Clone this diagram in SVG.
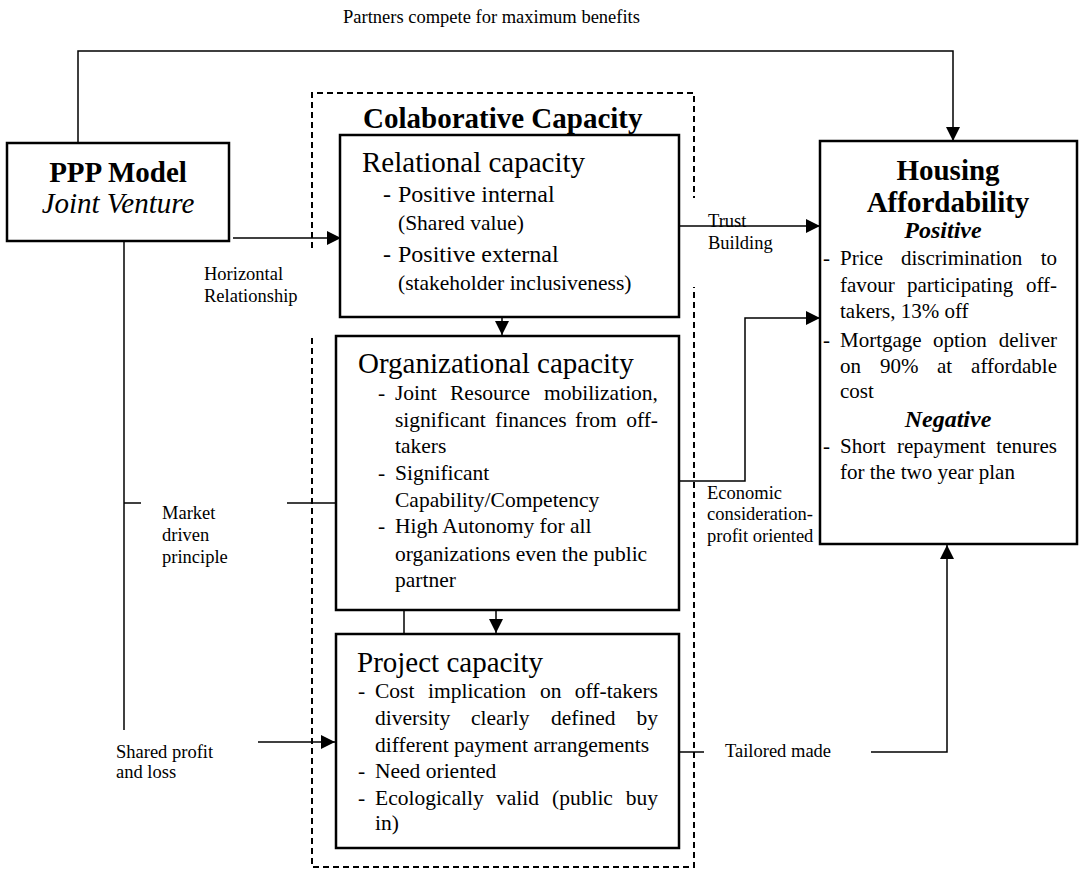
<svg xmlns="http://www.w3.org/2000/svg" width="1079" height="870" viewBox="0 0 1079 870">
<style>
text{font-family:"Liberation Serif","Times New Roman",serif;fill:#000}
.box{fill:#fff;stroke:#000;stroke-width:2.5}
.dash{fill:none;stroke:#000;stroke-width:2;stroke-dasharray:6 4}
.con{fill:none;stroke:#000;stroke-width:1.5}
.lbl{font-size:18.5px}
.ttl{font-size:29px}
.bt{font-size:29px;font-weight:bold}
.b24{font-size:24px}
.s21{font-size:21.5px}
.h21{font-size:21px}
</style>
<defs>
<marker id="ah" markerUnits="userSpaceOnUse" markerWidth="14" markerHeight="14" refX="14" refY="7" orient="auto">
<path d="M0,0 L14,7 L0,14 z" fill="#000"/>
</marker>
</defs>

<g id="collab-frame">
<path class="dash" d="M312,248 V93 H694 V198"/>
<path class="dash" d="M312,338 V867 H694 V287"/>
<text class="bt" x="363" y="128">Colaborative Capacity</text>
</g>

<g id="connectors">
<path class="con" d="M78,143 V51 H953 V141" marker-end="url(#ah)"/>
<path class="con" d="M233,238 H341" marker-end="url(#ah)"/>
<path class="con" d="M502,317 V335" marker-end="url(#ah)"/>
<path class="con" d="M679,226 H820" marker-end="url(#ah)"/>
<path class="con" d="M679,481 H745 V318 H820" marker-end="url(#ah)"/>
<path class="con" d="M124,241 V730"/>
<path class="con" d="M124,503 H141"/>
<path class="con" d="M287,503 H336"/>
<path class="con" d="M258,742 H335" marker-end="url(#ah)"/>
<path class="con" d="M404,610 V634"/>
<path class="con" d="M496,610 V633" marker-end="url(#ah)"/>
<path class="con" d="M679,752 H704"/>
<path class="con" d="M871,752 H947 V545" marker-end="url(#ah)"/>
<text class="lbl" x="343" y="23">Partners compete for maximum benefits</text>
<text class="lbl" x="204" y="280">Horizontal</text>
<text class="lbl" x="204" y="302">Relationship</text>
<text class="lbl" x="708" y="227">Trust</text>
<text class="lbl" x="708" y="249">Building</text>
<text class="lbl" x="707" y="499">Economic</text>
<text class="lbl" x="707" y="520">consideration-</text>
<text class="lbl" x="707" y="542">profit oriented</text>
<text class="lbl" x="162" y="519">Market</text>
<text class="lbl" x="162" y="541">driven</text>
<text class="lbl" x="162" y="563">principle</text>
<text class="lbl" x="116" y="758">Shared profit</text>
<text class="lbl" x="116" y="778">and loss</text>
<text class="lbl" x="725" y="757">Tailored made</text>
</g>

<g id="ppp-model">
<rect class="box" x="7" y="143" width="222" height="98"/>
<text class="bt" x="118" y="182" text-anchor="middle">PPP Model</text>
<text class="ttl" x="118" y="213" text-anchor="middle" font-style="italic">Joint Venture</text>
</g>

<g id="relational-capacity">
<rect class="box" x="340" y="135" width="339" height="182"/>
<text class="ttl" x="362" y="172">Relational capacity</text>
<text class="b24" x="383" y="202">-</text>
<text class="b24" x="398" y="202">Positive internal</text>
<text class="s21" x="398" y="230">(Shared value)</text>
<text class="b24" x="383" y="262">-</text>
<text class="b24" x="398" y="262">Positive external</text>
<text class="s21" x="398" y="290">(stakeholder inclusiveness)</text>
</g>

<g id="organizational-capacity">
<rect class="box" x="336" y="336" width="343" height="274"/>
<text class="ttl" x="358" y="373">Organizational capacity</text>
<g class="s21">
<text x="378" y="400">-</text>
<text y="400"><tspan x="395">Joint</tspan><tspan x="450">Resource</tspan><tspan x="658" text-anchor="end">mobilization,</tspan></text>
<text y="427"><tspan x="395">significant</tspan><tspan x="495">finances</tspan><tspan x="575">from</tspan><tspan x="658" text-anchor="end">off-</tspan></text>
<text x="395" y="453">takers</text>
<text x="378" y="480">-</text>
<text x="395" y="480">Significant</text>
<text x="395" y="507">Capability/Competency</text>
<text x="378" y="533">-</text>
<text x="395" y="533">High Autonomy for all</text>
<text x="395" y="561">organizations even the public</text>
<text x="395" y="587">partner</text>
</g>
</g>

<g id="project-capacity">
<rect class="box" x="336" y="634" width="343" height="214"/>
<text class="ttl" x="357" y="672">Project capacity</text>
<g class="s21">
<text x="358" y="698">-</text>
<text y="698"><tspan x="375">Cost</tspan><tspan x="428">implication</tspan><tspan x="540">on</tspan><tspan x="658" text-anchor="end">off-takers</tspan></text>
<text y="725"><tspan x="375">diversity</tspan><tspan x="471">clearly</tspan><tspan x="551">defined</tspan><tspan x="658" text-anchor="end">by</tspan></text>
<text x="375" y="752">different payment arrangements</text>
<text x="358" y="778">-</text>
<text x="375" y="778">Need oriented</text>
<text x="358" y="805">-</text>
<text y="805"><tspan x="375">Ecologically</tspan><tspan x="496">valid</tspan><tspan x="552">(public</tspan><tspan x="658" text-anchor="end">buy</tspan></text>
<text x="375" y="830">in)</text>
</g>
</g>

<g id="housing-affordability">
<rect class="box" x="820" y="141" width="257" height="403"/>
<text class="bt" x="948" y="180" text-anchor="middle">Housing</text>
<text class="bt" x="948" y="212" text-anchor="middle">Affordability</text>
<text class="b24" x="943" y="238" text-anchor="middle" font-weight="bold" font-style="italic">Positive</text>
<g class="h21">
<text x="823" y="265">-</text>
<text y="265"><tspan x="840">Price</tspan><tspan x="901">discrimination</tspan><tspan x="1057" text-anchor="end">to</tspan></text>
<text y="292"><tspan x="840">favour</tspan><tspan x="907">participating</tspan><tspan x="1057" text-anchor="end">off-</tspan></text>
<text x="840" y="318">takers, 13% off</text>
<text x="823" y="347">-</text>
<text y="347"><tspan x="840">Mortgage</tspan><tspan x="933">option</tspan><tspan x="1057" text-anchor="end">deliver</tspan></text>
<text y="373"><tspan x="840">on</tspan><tspan x="880">90%</tspan><tspan x="937">at</tspan><tspan x="1057" text-anchor="end">affordable</tspan></text>
<text x="840" y="398">cost</text>
<text x="823" y="453">-</text>
<text y="453"><tspan x="840">Short</tspan><tspan x="897">repayment</tspan><tspan x="1057" text-anchor="end">tenures</tspan></text>
<text x="840" y="479">for the two year plan</text>
</g>
<text class="b24" x="948" y="427" text-anchor="middle" font-weight="bold" font-style="italic">Negative</text>
</g>
</svg>
